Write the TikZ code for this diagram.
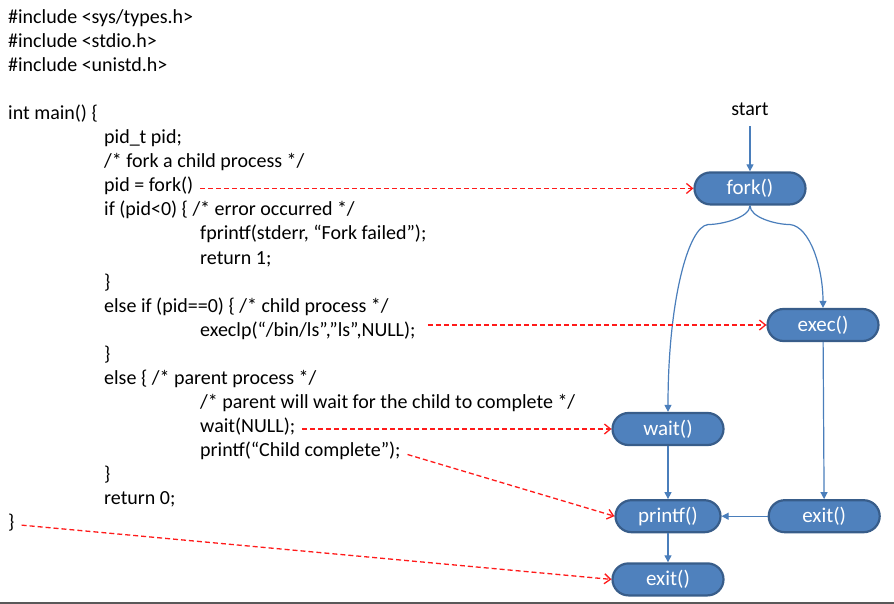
\documentclass[tikz,border=0pt]{standalone}
\usepackage{fontspec}
\setmainfont{Carlito}
\usetikzlibrary{positioning,arrows.meta}
\definecolor{boxfill}{HTML}{4F81BD}
\definecolor{boxline}{HTML}{385D8A}
\definecolor{flowblue}{HTML}{4A7EBB}
\definecolor{dashred}{HTML}{FF1A1A}
\tikzstyle{code}=[anchor=base west, inner sep=0pt, text height=13pt, text depth=6pt,
 font=\fontsize{20}{24}\selectfont]
\tikzstyle{procbox}=[rectangle, rounded corners=16pt, draw=boxline, fill=boxfill,
 line width=2.2pt, minimum width=111pt, minimum height=32pt, inner sep=0pt, text=white,
 font=\fontsize{21}{24}\selectfont]
\tikzstyle{bline}=[-{Triangle[length=7pt,width=7pt]}, line width=1.2pt, flowblue]
\tikzstyle{rline}=[-{Straight Barb[length=6pt,width=10pt]}, line width=1.3pt, dashred,
 dash pattern=on 5pt off 3pt, shorten <=7pt]

\begin{document}
\begin{tikzpicture}[x=1pt, y=1pt, node distance=0pt]
\useasboundingbox (0,0) rectangle (894,-604);

%  CODE
	\node (inc1) [code] at (8,-24) {\#include <sys/types.h>};
	\node (inc2) [code] at (8,-48) {\#include <stdio.h>};
	\node (inc3) [code] at (8,-72) {\#include <unistd.h>};
	\node (mainl) [code] at (8,-120) {int main() \{};
	\node (decl) [code] at (104,-144) {pid\_t pid;};
	\node (cmfork) [code] at (104,-168) {/* fork a child process */};
	\node (lfork) [code] at (104,-192) {pid = fork()};
	\node (iferr) [code] at (104,-216) {if (pid<0) \{ /* error occurred */};
	\node (lerr) [code] at (200,-240) {fprintf(stderr, “Fork failed”);};
	\node (ret1) [code] at (200,-264) {return 1;};
	\node (br1) [code] at (104,-288) {\}};
	\node (ifchild) [code] at (104,-312) {else if (pid==0) \{ /* child process */};
	\node (lexec) [code] at (200,-336) {execlp(“/bin/ls”,”ls”,NULL);};
	\node (br2) [code] at (104,-360) {\}};
	\node (elsep) [code] at (104,-384) {else \{ /* parent process */};
	\node (cmwait) [code] at (200,-408) {/* parent will wait for the child to complete */};
	\node (lwait) [code] at (200,-432) {wait(NULL);};
	\node (lprintf) [code] at (200,-456) {printf(“Child complete”);};
	\node (br3) [code] at (104,-480) {\}};
	\node (ret0) [code] at (104,-504) {return 0;};
	\node (lend) [code] at (8,-528) {\}};

%  FLOW
	\node (start) [anchor=base, inner sep=0pt, font=\fontsize{20}{24}\selectfont] at (750,-116) {start};
	\node (fork) [procbox, below=55pt of start] {fork()};
	\node (exec) [procbox] at (823,-325) {exec()};
	\node (wait) [procbox] at (668,-429) {wait()};
	\node (printf) [procbox, minimum width=105pt, below=53pt of wait] {printf()};
	\node (exitp) [procbox, below=29pt of printf] {exit()};
	\node (exitc) [procbox, right=46pt of printf] {exit()};

   \draw[bline, shorten <=10pt] (start) -- (fork);
   \draw[bline] (fork.south) .. controls +(0,-12) and +(14,0) .. ++(-42,-19)
      .. controls +(-20,-2) and +(0,110) .. (wait.north);
   \draw[bline] (fork.south) .. controls +(0,-12) and +(-14,0) .. ++(40,-19)
      .. controls +(20,-2) and +(0,40) .. (exec.north);
   \draw[bline] (wait) -- (printf);
   \draw[bline] (exec) -- (exitc);
   \draw[bline] (exitc) -- (printf);
   \draw[bline] (printf) -- (exitp);

%links
   \draw[rline] (lfork.east |- fork.west) -- (fork.west);
   \draw[rline, shorten <=12pt] (lexec.east |- exec.west) -- (exec.west);
   \draw[rline] (lwait.east |- wait.west) -- (wait.west);
   \draw[rline] (lprintf.east) -- (printf.west);
   \draw[rline] (lend.east) -- (exitp.west);

   \draw[line width=1.5pt, black!65] (0,-603) -- (894,-603);

\end{tikzpicture}
\end{document}
